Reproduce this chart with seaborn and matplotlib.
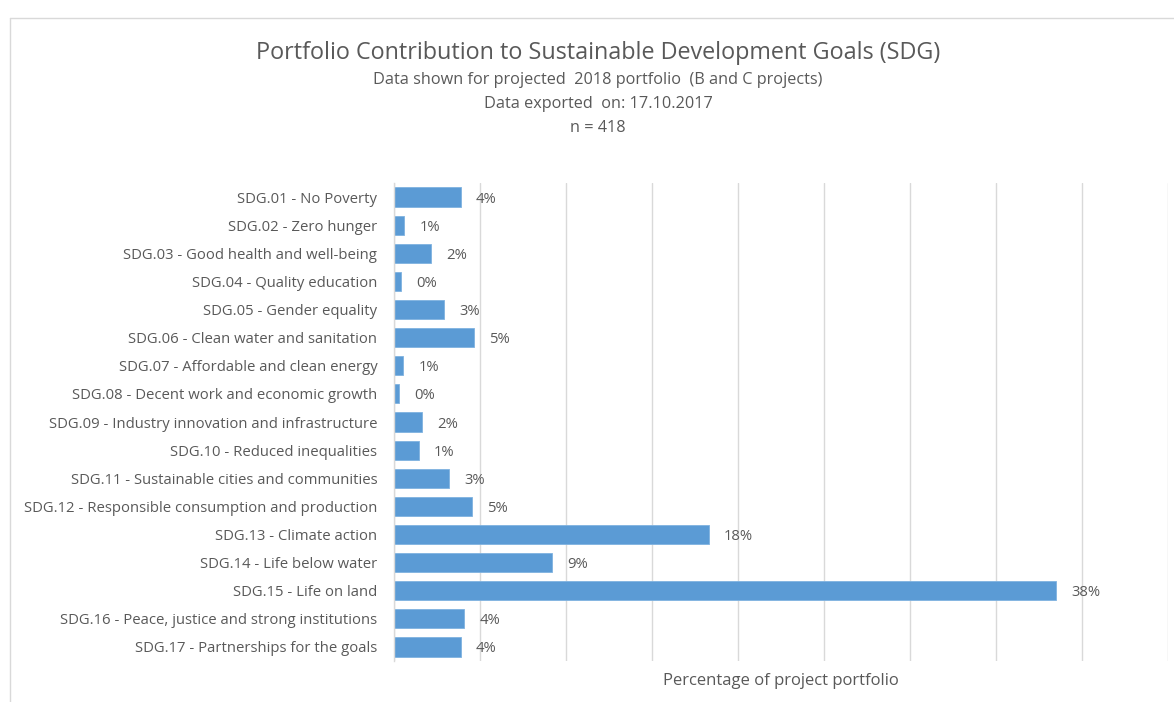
import matplotlib
matplotlib.use("Agg")
import matplotlib.pyplot as plt
from matplotlib.lines import Line2D
import seaborn as sns
import pandas as pd

categories = [
    "SDG.01 - No Poverty",
    "SDG.02 - Zero hunger",
    "SDG.03 - Good health and well-being",
    "SDG.04 - Quality education",
    "SDG.05 - Gender equality",
    "SDG.06 - Clean water and sanitation",
    "SDG.07 - Affordable and clean energy",
    "SDG.08 - Decent work and economic growth",
    "SDG.09 - Industry innovation and infrastructure",
    "SDG.10 - Reduced inequalities",
    "SDG.11 - Sustainable cities and communities",
    "SDG.12 - Responsible consumption and production",
    "SDG.13 - Climate action",
    "SDG.14 - Life below water",
    "SDG.15 - Life on land",
    "SDG.16 - Peace, justice and strong institutions",
    "SDG.17 - Partnerships for the goals",
]
percentages = [3.87, 0.60, 2.13, 0.39, 2.89, 4.65, 0.52, 0.31, 1.64, 1.43,
               3.18, 4.51, 18.31, 9.18, 38.48, 4.08, 3.87]
value_labels = ["4%", "1%", "2%", "0%", "3%", "5%", "1%", "0%", "2%", "1%",
                "3%", "5%", "18%", "9%", "38%", "4%", "4%"]

title = "Portfolio Contribution to Sustainable Development Goals (SDG)"
subtitle_lines = [
    "Data shown for projected  2018 portfolio  (B and C projects)",
    "Data exported  on: 17.10.2017",
    "n = 418",
]
x_label = "Percentage of project portfolio"

sns.set_theme(style="white")
plt.rcParams["font.family"] = ["Open Sans", "DejaVu Sans"]

TEXT = "#595959"
BAR = "#5B9BD5"
GRID = "#D9D9D9"

df = pd.DataFrame({"category": categories, "pct": percentages})

fig = plt.figure(figsize=(11.74, 7.02), dpi=100)
ax = fig.add_axes([394 / 1174, 1 - 661 / 702, (1168 - 394) / 1174, (661 - 183) / 702])

sns.barplot(data=df, x="pct", y="category", orient="h", color=BAR,
            width=0.68, edgecolor="#7FB2E0", linewidth=0.6, ax=ax,
            saturation=1)

ax.set_xlim(0, 45)
ax.set_xticks(range(0, 46, 5))
ax.set_xticklabels([])
ax.tick_params(axis="both", length=0)
ax.xaxis.grid(True, color=GRID, linewidth=1)
ax.yaxis.grid(False)
ax.set_axisbelow(True)
for s in ["top", "right", "bottom"]:
    ax.spines[s].set_visible(False)
ax.spines["left"].set_color(GRID)
ax.spines["left"].set_linewidth(1)

ax.set_ylabel("")
ax.set_xlabel(x_label, fontsize=12, color=TEXT, labelpad=5)
for lbl in ax.get_yticklabels():
    lbl.set_fontsize(10.7)
    lbl.set_color(TEXT)
ax.tick_params(axis="y", pad=12)

texts = ax.bar_label(ax.containers[0], labels=value_labels, padding=11,
                     fontsize=10.7, color=TEXT)
for t in texts:
    t.set_va("center_baseline")

fig.text(598 / 1174, 1 - 53 / 702, title, ha="center", va="center",
         fontsize=16.8, color=TEXT)
for i, line in enumerate(subtitle_lines):
    fig.text(598 / 1174, 1 - (80 + 24 * i) / 702, line, ha="center",
             va="center", fontsize=11.7, color=TEXT)

fig.add_artist(Line2D([10 / 1174, 10 / 1174], [0, 1 - 18 / 702],
                      transform=fig.transFigure, color="#D9D9D9", lw=1))
fig.add_artist(Line2D([10 / 1174, 1], [1 - 18 / 702, 1 - 18 / 702],
                      transform=fig.transFigure, color="#D9D9D9", lw=1))

fig.savefig("out.png", dpi=100, facecolor="white")
